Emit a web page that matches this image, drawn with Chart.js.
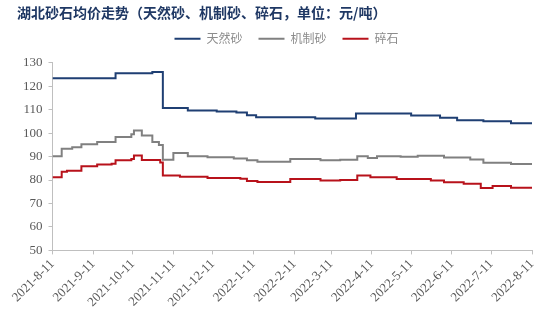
<!DOCTYPE html>
<html>
<head>
<meta charset="utf-8">
<script src="https://cdn.jsdelivr.net/npm/chart.js@4"></script>
<style>
  html, body { margin: 0; padding: 0; background: #fff; }
  #wrap { width: 554px; height: 316px; }
</style>
</head>
<body>
<div id="wrap"><canvas id="chart"></canvas></div>
<script>
// x axis: days since 2021-8-11
const monthDays = [0, 31, 61, 92, 122, 153, 184, 212, 243, 273, 304, 334, 365];
const monthLabels = ["2021-8-11", "2021-9-11", "2021-10-11", "2021-11-11", "2021-12-11", "2022-1-11",
  "2022-2-11", "2022-3-11", "2022-4-11", "2022-5-11", "2022-6-11", "2022-7-11", "2022-8-11"];

// 天然砂 (price changes: day -> value)
const tianranDays = [0, 48, 76, 84, 103, 125, 140, 148, 155, 200, 231, 273, 295, 308, 328, 349, 365];
const tianranValues = [123.4, 125.5, 126.1, 110.7, 109.7, 109.2, 108.8, 107.6, 106.8, 106.2, 108.4, 107.5, 106.6, 105.5, 105.1, 104.2, 104.2];

// 机制砂
const jizhiDays = [0, 7, 15, 22, 34, 48, 60, 62, 68, 76, 81, 84, 92, 103, 118, 138, 148, 156, 181, 204, 219, 232, 240, 247, 265, 278, 298, 318, 328, 349, 365];
const jizhiValues = [90.1, 93.4, 94.0, 95.3, 96.2, 98.4, 99.5, 101.1, 99.0, 96.2, 95.0, 88.7, 91.5, 90.1, 89.7, 89.2, 88.4, 87.8, 89.0, 88.4, 88.7, 90.2, 89.4, 90.1, 89.9, 90.4, 89.6, 88.8, 87.4, 86.9, 86.9];

// 碎石
const suishiDays = [0, 7, 11, 22, 34, 45, 48, 60, 62, 68, 82, 84, 97, 118, 143, 148, 156, 181, 204, 219, 232, 242, 262, 288, 298, 313, 326, 335, 349, 365];
const suishiValues = [81.2, 83.5, 84.0, 85.9, 86.6, 87.0, 88.4, 89.0, 90.5, 88.6, 87.5, 81.9, 81.4, 80.9, 80.6, 79.6, 79.2, 80.5, 79.8, 80.0, 81.9, 81.2, 80.4, 79.8, 79.1, 78.4, 76.6, 77.5, 76.7, 76.7];

function toPoints(days, values) {
  return days.map((d, i) => ({ x: d, y: values[i] }));
}

// nudge the legend a bit right and up, like the original
const legendShift = {
  id: "legendShift",
  afterLayout(chart) {
    const lg = chart.legend;
    if (!lg) return;
    lg.left += 12; lg.right += 12;
    lg.top -= 8; lg.bottom -= 8;
  }
};

const tickFont = { family: "'Liberation Serif', serif", size: 13 };
const ctx = document.getElementById("chart");

new Chart(ctx, {
  type: "line",
  data: {
    datasets: [
      { label: "天然砂", data: toPoints(tianranDays, tianranValues), borderColor: "#1f3f73", backgroundColor: "#1f3f73" },
      { label: "机制砂", data: toPoints(jizhiDays, jizhiValues), borderColor: "#808080", backgroundColor: "#808080" },
      { label: "碎石", data: toPoints(suishiDays, suishiValues), borderColor: "#b8121b", backgroundColor: "#b8121b" }
    ]
  },
  options: {
    responsive: true,
    maintainAspectRatio: false,
    animation: false,
    datasets: { line: { stepped: true, pointRadius: 0, borderWidth: 2, tension: 0 } },
    layout: { padding: { left: 17, right: 22, top: 2, bottom: 4 } },
    plugins: {
      title: {
        display: true,
        text: "湖北砂石均价走势（天然砂、机制砂、碎石，单位：元/吨）",
        align: "start",
        color: "#1f3864",
        font: { family: "'Noto Sans CJK SC'", size: 14, weight: "bold" },
        padding: { top: 2, bottom: 4 }
      },
      legend: {
        display: true,
        labels: {
          usePointStyle: true,
          pointStyle: "line",
          pointStyleWidth: 26,
          boxHeight: 8,
          color: "#8c8c8c",
          font: { family: "'Noto Sans CJK SC'", size: 12 },
          padding: 16
        }
      },
      tooltip: { enabled: false }
    },
    scales: {
      x: {
        type: "linear",
        min: 0,
        max: 365,
        afterBuildTicks: (axis) => { axis.ticks = monthDays.map(v => ({ value: v })); },
        ticks: {
          autoSkip: false,
          minRotation: 45,
          maxRotation: 45,
          color: "#595959",
          font: tickFont,
          padding: 2,
          callback: (v) => monthLabels[monthDays.indexOf(v)]
        },
        grid: { drawOnChartArea: false, drawTicks: true, tickLength: 4, color: "#bfbfbf" },
        border: { color: "#bfbfbf" }
      },
      y: {
        min: 50,
        max: 130,
        ticks: { stepSize: 10, color: "#595959", font: tickFont, padding: 6 },
        grid: { drawOnChartArea: false, drawTicks: true, tickLength: 4, color: "#bfbfbf" },
        border: { color: "#bfbfbf" }
      }
    }
  },
  plugins: [legendShift]
});
</script>
</body>
</html>
